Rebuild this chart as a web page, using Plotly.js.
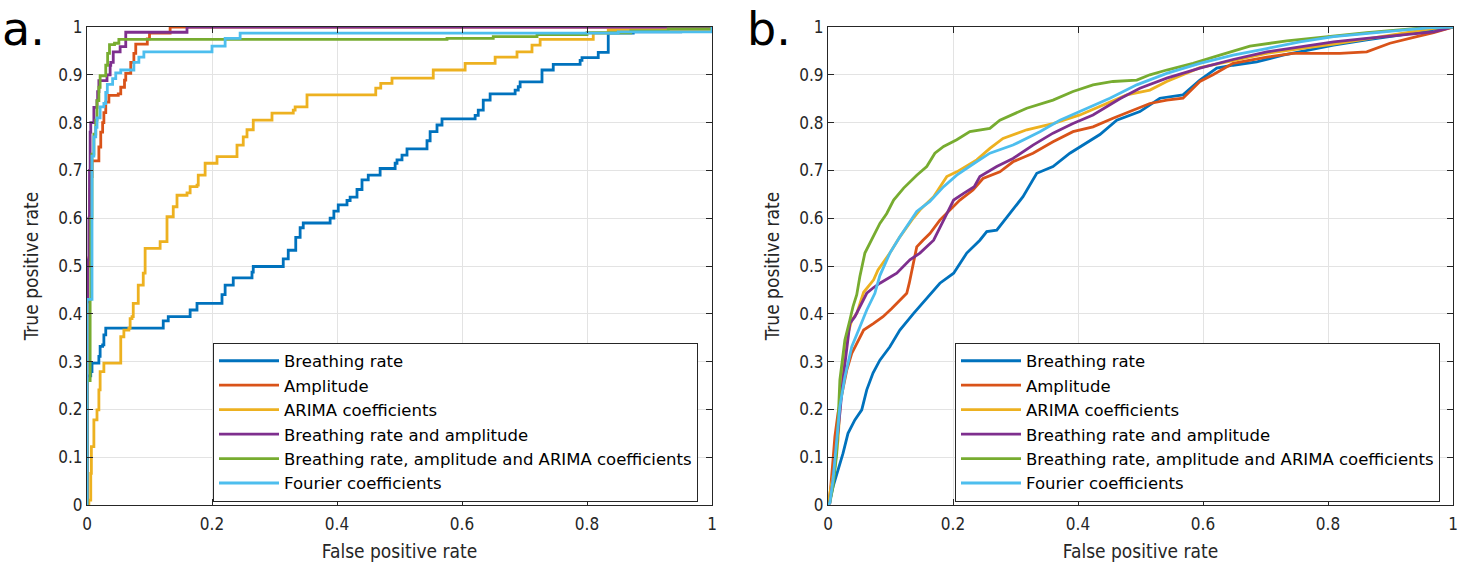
<!DOCTYPE html>
<html>
<head>
<meta charset="utf-8">
<script src="https://cdn.plot.ly/plotly-3.0.1.min.js"></script>
<style>html,body{margin:0;padding:0;background:#fff;}#chart{width:1459px;height:564px;}</style>
</head>
<body>
<div id="chart"></div>
<script>
// ---------- Series names ----------
const seriesNames = ["Breathing rate", "Amplitude", "ARIMA coefficients", "Breathing rate and amplitude",
  "Breathing rate, amplitude and ARIMA coefficients", "Fourier coefficients"];
const seriesColors = ["#0072BD", "#D95319", "#EDB120", "#7E2F8E", "#77AC30", "#4DBEEE"];

// ---------- Panel a (step ROC curves: x where TPR jumps, new TPR) ----------
const aBreathFPR = [0,0,0.006,0.008,0.019,0.021,0.025,0.027,0.03,0.122,0.13,0.165,0.176,0.216,0.221,0.234,0.264,0.266,0.314,0.322,0.334,0.341,0.346,0.389,0.395,0.402,0.416,0.421,0.432,0.44,0.45,0.469,0.493,0.496,0.504,0.512,0.544,0.549,0.56,0.568,0.621,0.626,0.634,0.645,0.685,0.69,0.693,0.728,0.746,0.789,0.792,0.818,0.834,0.874,0.95,1];
const aBreathTPR = [0,0.27,0.279,0.297,0.311,0.332,0.335,0.356,0.37,0.385,0.394,0.408,0.422,0.44,0.46,0.475,0.487,0.499,0.515,0.533,0.56,0.58,0.59,0.6,0.615,0.628,0.637,0.644,0.66,0.68,0.69,0.704,0.715,0.722,0.732,0.745,0.762,0.781,0.795,0.808,0.815,0.826,0.847,0.86,0.868,0.875,0.885,0.91,0.922,0.93,0.936,0.947,0.987,0.99,0.995,1];

const aAmpFPR = [0,0,0.003,0.004,0.005,0.006,0.008,0.019,0.022,0.025,0.027,0.03,0.035,0.05,0.054,0.06,0.062,0.07,0.075,0.078,0.0965,0.1,0.133,1];
const aAmpTPR = [0,0.5,0.517,0.603,0.66,0.687,0.72,0.749,0.78,0.8,0.821,0.843,0.857,0.86,0.874,0.889,0.903,0.926,0.945,0.964,0.975,0.987,1,1];

const aArimaFPR = [0,0.003,0.006,0.007,0.011,0.016,0.019,0.021,0.027,0.054,0.059,0.067,0.069,0.072,0.074,0.082,0.09,0.093,0.117,0.128,0.138,0.144,0.16,0.165,0.176,0.178,0.189,0.208,0.24,0.25,0.256,0.266,0.296,0.33,0.333,0.352,0.462,0.47,0.488,0.554,0.605,0.653,0.688,0.712,0.725,0.81,0.834,1];
const aArimaTPR = [0,0.01,0.066,0.122,0.178,0.199,0.241,0.279,0.297,0.352,0.366,0.37,0.39,0.394,0.422,0.46,0.485,0.537,0.551,0.603,0.624,0.648,0.653,0.666,0.669,0.69,0.715,0.729,0.753,0.77,0.785,0.805,0.82,0.826,0.833,0.858,0.872,0.882,0.893,0.91,0.924,0.937,0.948,0.962,0.974,0.987,0.994,1];

const aBrAmpFPR = [0,0,0.001,0.003,0.004,0.005,0.006,0.011,0.016,0.017,0.019,0.032,0.037,0.038,0.042,0.053,0.062,0.16,1];
const aBrAmpTPR = [0,0.425,0.513,0.6,0.7,0.78,0.8,0.832,0.846,0.865,0.888,0.9,0.92,0.926,0.948,0.959,0.989,1,1];

const aAllFPR = [0,0,0.005,0.006,0.008,0.011,0.014,0.016,0.019,0.021,0.03,0.033,0.036,0.044,0.051,0.576,0.65,0.72,0.8,0.87,0.93,1];
const aAllTPR = [0,0.26,0.43,0.6,0.734,0.776,0.805,0.846,0.874,0.898,0.92,0.945,0.963,0.966,0.974,0.976,0.98,0.984,0.988,0.992,0.996,1];

const aFourierFPR = [0,0,0.008,0.011,0.014,0.016,0.021,0.027,0.03,0.0325,0.041,0.046,0.054,0.075,0.083,0.091,0.2,0.221,0.245,0.85,1];
const aFourierTPR = [0,0.43,0.73,0.77,0.79,0.81,0.833,0.84,0.863,0.88,0.892,0.904,0.91,0.926,0.937,0.948,0.96,0.976,0.987,0.99,1];

// ---------- Panel b ----------
const bBreathFPR = [0,0.003,0.008,0.016,0.024,0.032,0.043,0.054,0.062,0.072,0.083,0.099,0.115,0.137,0.158,0.179,0.201,0.222,0.243,0.254,0.27,0.291,0.312,0.334,0.36,0.387,0.414,0.435,0.462,0.499,0.531,0.568,0.595,0.622,0.648,0.686,0.728,0.809,0.862,0.915,0.969,1];
const bBreathTPR = [0,0.01,0.038,0.073,0.108,0.15,0.178,0.199,0.241,0.276,0.303,0.331,0.366,0.401,0.432,0.464,0.485,0.527,0.554,0.572,0.575,0.61,0.645,0.694,0.708,0.736,0.757,0.775,0.805,0.823,0.851,0.858,0.889,0.914,0.92,0.927,0.941,0.962,0.973,0.983,0.995,1];

const bAmpFPR = [0,0.003,0.008,0.011,0.016,0.022,0.03,0.038,0.046,0.057,0.073,0.088,0.102,0.115,0.126,0.13,0.136,0.142,0.152,0.163,0.179,0.195,0.211,0.232,0.248,0.275,0.296,0.328,0.36,0.392,0.424,0.456,0.494,0.515,0.542,0.568,0.595,0.616,0.648,0.702,0.744,0.819,0.862,0.899,0.942,0.969,1];
const bAmpTPR = [0,0.017,0.094,0.143,0.192,0.234,0.282,0.317,0.338,0.366,0.38,0.394,0.411,0.429,0.443,0.464,0.499,0.54,0.554,0.568,0.596,0.617,0.638,0.659,0.683,0.697,0.718,0.736,0.76,0.781,0.791,0.809,0.83,0.84,0.847,0.851,0.886,0.9,0.924,0.937,0.945,0.945,0.948,0.966,0.98,0.988,1];

const bArimaFPR = [0,0.003,0.011,0.016,0.022,0.024,0.03,0.038,0.046,0.057,0.073,0.08,0.099,0.115,0.134,0.147,0.169,0.19,0.206,0.238,0.259,0.28,0.318,0.36,0.403,0.446,0.478,0.515,0.542,0.595,0.648,0.702,0.809,0.889,0.969,1];
const bArimaTPR = [0,0.025,0.08,0.136,0.262,0.303,0.349,0.387,0.401,0.445,0.471,0.492,0.527,0.561,0.596,0.617,0.645,0.687,0.697,0.722,0.746,0.767,0.785,0.798,0.816,0.84,0.858,0.868,0.886,0.915,0.93,0.945,0.964,0.981,0.997,1];

const bBrAmpFPR = [0,0.003,0.008,0.014,0.019,0.024,0.03,0.035,0.043,0.051,0.062,0.073,0.083,0.11,0.131,0.147,0.169,0.185,0.201,0.217,0.234,0.243,0.27,0.296,0.328,0.36,0.392,0.424,0.467,0.499,0.542,0.595,0.648,0.702,0.755,0.809,0.862,0.915,0.969,1];
const bBrAmpTPR = [0,0.004,0.052,0.122,0.192,0.262,0.331,0.38,0.394,0.415,0.443,0.455,0.464,0.485,0.513,0.527,0.554,0.596,0.638,0.652,0.666,0.687,0.708,0.725,0.753,0.778,0.798,0.816,0.85,0.872,0.893,0.914,0.932,0.948,0.959,0.969,0.976,0.983,0.99,1];

const bAllFPR = [0,0.003,0.008,0.014,0.019,0.022,0.027,0.035,0.04,0.046,0.051,0.059,0.072,0.083,0.094,0.105,0.121,0.142,0.158,0.171,0.185,0.206,0.227,0.259,0.275,0.318,0.36,0.392,0.424,0.456,0.494,0.515,0.542,0.584,0.627,0.675,0.734,0.809,0.862,0.942,0.969,1];
const bAllTPR = [0,0.005,0.038,0.108,0.262,0.296,0.345,0.387,0.415,0.44,0.478,0.527,0.561,0.589,0.61,0.638,0.663,0.69,0.708,0.736,0.75,0.764,0.781,0.788,0.805,0.83,0.847,0.865,0.879,0.886,0.889,0.9,0.91,0.924,0.941,0.96,0.971,0.981,0.988,0.997,1,1];

const bFourierFPR = [0,0.003,0.008,0.014,0.019,0.027,0.038,0.049,0.062,0.075,0.083,0.099,0.115,0.142,0.163,0.185,0.206,0.234,0.259,0.296,0.339,0.371,0.414,0.451,0.494,0.542,0.595,0.648,0.702,0.755,0.809,0.862,0.915,0.969,1];
const bFourierTPR = [0,0.005,0.052,0.136,0.206,0.268,0.331,0.366,0.408,0.443,0.48,0.527,0.561,0.614,0.635,0.666,0.69,0.715,0.736,0.753,0.781,0.805,0.83,0.851,0.879,0.903,0.924,0.941,0.955,0.969,0.98,0.987,0.993,0.999,1];

// ---------- Ticks ----------
const xTickVals = [0, 0.2, 0.4, 0.6, 0.8, 1];
const xTickText = ["0", "0.2", "0.4", "0.6", "0.8", "1"];
const yTickVals = [0, 0.1, 0.2, 0.3, 0.4, 0.5, 0.6, 0.7, 0.8, 0.9, 1];
const yTickText = ["0", "0.1", "0.2", "0.3", "0.4", "0.5", "0.6", "0.7", "0.8", "0.9", "1"];

const FONT = "DejaVu Sans Condensed, DejaVu Sans, sans-serif";
const LW = 2.8;

const aX = [aBreathFPR, aAmpFPR, aArimaFPR, aBrAmpFPR, aAllFPR, aFourierFPR];
const aY = [aBreathTPR, aAmpTPR, aArimaTPR, aBrAmpTPR, aAllTPR, aFourierTPR];
const bX = [bBreathFPR, bAmpFPR, bArimaFPR, bBrAmpFPR, bAllFPR, bFourierFPR];
const bY = [bBreathTPR, bAmpTPR, bArimaTPR, bBrAmpTPR, bAllTPR, bFourierTPR];

const traces = [];
for (let i = 0; i < 6; i++) {
  traces.push({x: aX[i], y: aY[i], type: 'scatter', mode: 'lines', name: seriesNames[i],
    line: {color: seriesColors[i], width: LW, shape: 'hv'}, xaxis: 'x', yaxis: 'y', legend: 'legend'});
}
for (let i = 0; i < 6; i++) {
  traces.push({x: bX[i], y: bY[i], type: 'scatter', mode: 'lines', name: seriesNames[i],
    line: {color: seriesColors[i], width: LW}, xaxis: 'x2', yaxis: 'y2', legend: 'legend2'});
}

const W = 1459, H = 564;
function axisX(domain, anchor) {
  return {domain: domain, anchor: anchor, range: [0, 1], tickvals: xTickVals, ticktext: xTickText,
    ticks: 'inside', ticklen: 6, tickwidth: 1, tickcolor: '#262626', showline: true, linecolor: '#262626',
    linewidth: 1, mirror: 'ticks', showgrid: true, gridcolor: '#e3e3e3', gridwidth: 1, zeroline: false,
    tickfont: {family: FONT, size: 17, color: '#262626'}, fixedrange: true, ticklabelstandoff: 4,
    title: {text: 'False positive rate', font: {family: FONT, size: 19, color: '#262626'}, standoff: 11}};
}
function axisY(domain, anchor) {
  return {domain: domain, anchor: anchor, range: [0, 1], tickvals: yTickVals, ticktext: yTickText,
    ticks: 'inside', ticklen: 6, tickwidth: 1, tickcolor: '#262626', showline: true, linecolor: '#262626',
    linewidth: 1, mirror: 'ticks', showgrid: true, gridcolor: '#e3e3e3', gridwidth: 1, zeroline: false,
    tickfont: {family: FONT, size: 17, color: '#262626'}, fixedrange: true,
    title: {text: 'True positive rate', font: {family: FONT, size: 19, color: '#262626'}, standoff: 14}};
}
function legendAt(xRight) {
  return {x: xRight / W, xanchor: 'right', y: (H - 422) / H, yanchor: 'middle',
    bgcolor: '#ffffff', bordercolor: '#262626', borderwidth: 1,
    font: {family: "DejaVu Sans, sans-serif", size: 16.5, color: '#000000'},
    itemwidth: 60, tracegroupgap: 0, traceorder: 'normal'};
}
const yDom = [(H - 505) / H, (H - 27) / H];
const layout = {
  width: W, height: H, margin: {l: 0, r: 0, t: 0, b: 0},
  paper_bgcolor: '#ffffff', plot_bgcolor: '#ffffff', showlegend: true,
  xaxis: axisX([87 / W, 712 / W], 'y'),
  yaxis: axisY(yDom, 'x'),
  xaxis2: axisX([828 / W, 1453 / W], 'y2'),
  yaxis2: axisY(yDom, 'x2'),
  legend: legendAt(698),
  legend2: legendAt(1440),
  annotations: [
    {text: 'a.', xref: 'paper', yref: 'paper', x: 0, y: 1, xanchor: 'left', yanchor: 'top',
     showarrow: false, font: {family: "DejaVu Sans, sans-serif", size: 46, color: '#000'}},
    {text: 'b.', xref: 'paper', yref: 'paper', x: 745 / W, y: 1, xanchor: 'left', yanchor: 'top',
     showarrow: false, font: {family: "DejaVu Sans, sans-serif", size: 46, color: '#000'}}
  ]
};
Plotly.newPlot('chart', traces, layout, {displayModeBar: false, staticPlot: true});
</script>
</body>
</html>
